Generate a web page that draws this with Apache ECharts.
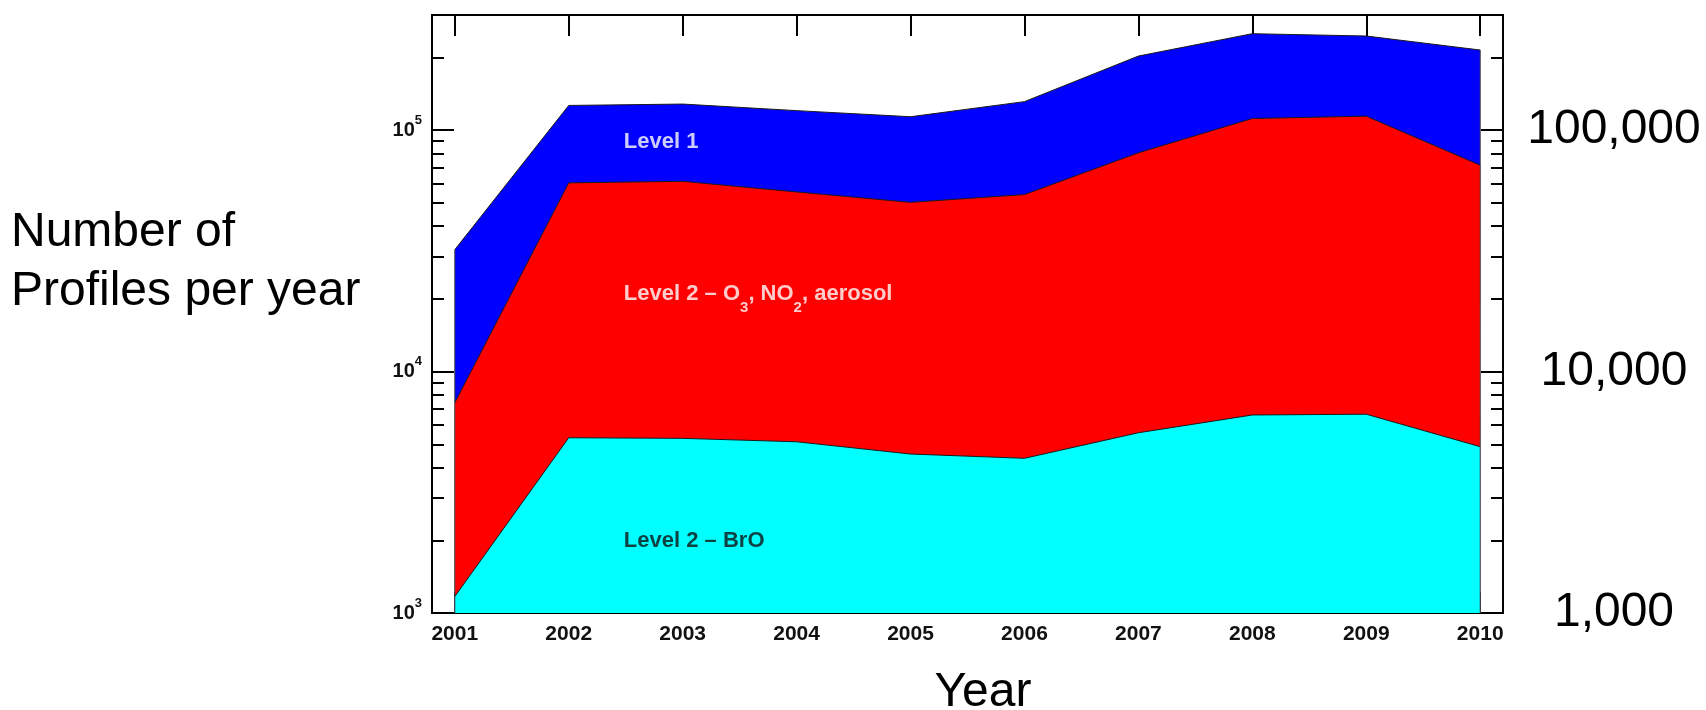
<!DOCTYPE html>
<html>
<head>
<meta charset="utf-8">
<script src="https://cdn.jsdelivr.net/npm/echarts@6/dist/echarts.min.js"></script>
<style>
html,body{margin:0;padding:0;background:#fff;}
#c{width:1706px;height:710px;}
</style>
</head>
<body>
<div id="c"></div>
<script>
// ---- data ----
const years = [2001, 2002, 2003, 2004, 2005, 2006, 2007, 2008, 2009, 2010];
const level1 = [32000, 126600, 128300, 120500, 113700, 131300, 202800, 251000, 245500, 214800];
const level2O3 = [7430, 60500, 61400, 55500, 50250, 54100, 80600, 111800, 114300, 71600];
const level2BrO = [1170, 5320, 5290, 5120, 4555, 4373, 5580, 6610, 6660, 4885];

const majorTicks = [1000, 10000, 100000];
const minorTicks = [2000, 3000, 4000, 5000, 6000, 7000, 8000, 9000,
                    20000, 30000, 40000, 50000, 60000, 70000, 80000, 90000,
                    200000, 300000];
const rightTickLabels = ['1,000', '10,000', '100,000'];
const yearTickLabels = years.map(String);

const seriesNames = ['Level 1', 'Level 2 – O3, NO2, aerosol', 'Level 2 – BrO'];

// ---- layout / style ----
const FONT = '"Liberation Sans", Arial, Helvetica, sans-serif';
const X_MIN = 2000.8, X_MAX = 2010.2;
const Y_MIN = 1000, Y_MAX = 300000;

const chart = echarts.init(document.getElementById('c'), null, {renderer: 'canvas'});

const frameLine = {show: true, onZero: false, lineStyle: {color: '#000', width: 2}};

function yAxisDef(position, ticks, len, label) {
  return {
    type: 'log', logBase: 10, min: Y_MIN, max: Y_MAX, position: position, gridIndex: 0,
    axisLine: frameLine,
    splitLine: {show: false}, minorTick: {show: false}, minorSplitLine: {show: false},
    axisTick: {show: true, inside: true, length: len, lineStyle: {color: '#000', width: 2}, customValues: ticks},
    axisLabel: label ? Object.assign({show: true, customValues: majorTicks}, label) : {show: false}
  };
}

const leftLabel = {
  margin: 10,
  formatter: function (v) { return '{b|10}{s|' + Math.round(Math.log10(v)) + '}'; },
  rich: {
    b: {fontFamily: FONT, fontSize: 20, fontWeight: 'bold', color: '#111', lineHeight: 22},
    s: {fontFamily: FONT, fontSize: 13, fontWeight: 'bold', color: '#111', lineHeight: 13, padding: [0, 0, 20, 0]}
  }
};
const rightLabel = {
  margin: 111, align: 'center',
  fontFamily: FONT, fontSize: 48, color: '#000',
  formatter: function (v) { return rightTickLabels[majorTicks.indexOf(v)] || ''; }
};

function areaSeries(name, values, color) {
  return {
    type: 'line', name: name, xAxisIndex: 0, yAxisIndex: 0,
    data: years.map(function (y, i) { return [y, values[i]]; }),
    symbol: 'none', showSymbol: false, silent: true,
    lineStyle: {width: 1, color: '#1a1a1a'},
    itemStyle: {color: color},
    areaStyle: {color: color, opacity: 1, origin: 'start'}
  };
}

function edgeSeries(idx) {
  return {
    type: 'line', xAxisIndex: 0, yAxisIndex: 0, symbol: 'none', silent: true,
    lineStyle: {width: 1, color: '#444'},
    data: [[years[idx], Y_MIN], [years[idx], level1[idx]]]
  };
}

const txtWhite = {fontFamily: FONT, fontSize: 22, fontWeight: 'bold', color: '#fff'};
const annotationSeries = {
  type: 'scatter', xAxisIndex: 0, yAxisIndex: 0, symbolSize: 0, silent: true, z: 10,
  label: {show: true, position: 'right', distance: 0},
  data: [
    {value: [2002.484, 89500], label: Object.assign({formatter: seriesNames[0]}, txtWhite)},
    {value: [2002.484, 21050], label: {
      formatter: '{t|Level 2 – O}{s|3}{t|, NO}{s|2}{t|, aerosol}',
      rich: {
        t: {fontFamily: FONT, fontSize: 22, fontWeight: 'bold', color: '#fff', lineHeight: 23},
        s: {fontFamily: FONT, fontSize: 15, fontWeight: 'bold', color: '#fff', lineHeight: 15, padding: [29, 0, 0, 0]}
      }
    }},
    {value: [2002.484, 1981], label: {formatter: seriesNames[2], fontFamily: FONT, fontSize: 22, fontWeight: 'bold', color: '#111'}}
  ]
};

const option = {
  animation: false,
  backgroundColor: '#fff',
  grid: {left: 432, top: 15, width: 1071, height: 598, containLabel: false},
  xAxis: [
    {
      type: 'value', min: X_MIN, max: X_MAX, position: 'bottom', gridIndex: 0,
      axisLine: frameLine, splitLine: {show: false},
      axisTick: {show: true, inside: true, length: 21, lineStyle: {color: '#000', width: 2}, customValues: years},
      axisLabel: {show: true, customValues: years, margin: 11, fontFamily: FONT, fontSize: 21, fontWeight: 'bold', color: '#111',
        formatter: function (v) { return yearTickLabels[years.indexOf(v)] || String(v); }}
    },
    {
      type: 'value', min: X_MIN, max: X_MAX, position: 'top', gridIndex: 0,
      axisLine: frameLine, splitLine: {show: false},
      axisTick: {show: true, inside: true, length: 21, lineStyle: {color: '#000', width: 2}, customValues: years},
      axisLabel: {show: false}
    }
  ],
  yAxis: [
    yAxisDef('left', majorTicks, 22, leftLabel),
    yAxisDef('left', minorTicks, 12, null),
    yAxisDef('right', majorTicks, 22, rightLabel),
    yAxisDef('right', minorTicks, 12, null)
  ],
  graphic: [
    {type: 'text', x: 11, y: 262, silent: true,
      style: {text: 'Number of\nProfiles per year', font: '48px ' + FONT, fill: '#000', lineHeight: 59,
        textAlign: 'left', textVerticalAlign: 'middle'}},
    {type: 'text', x: 983, y: 693, silent: true,
      style: {text: 'Year', font: '48px ' + FONT, fill: '#000', textAlign: 'center', textVerticalAlign: 'middle'}}
  ],
  series: [
    areaSeries(seriesNames[0], level1, '#0000ff'),
    areaSeries(seriesNames[1], level2O3, '#ff0000'),
    areaSeries(seriesNames[2], level2BrO, '#00ffff'),
    edgeSeries(0),
    edgeSeries(years.length - 1),
    annotationSeries
  ]
};

chart.setOption(option);
</script>
</body>
</html>
